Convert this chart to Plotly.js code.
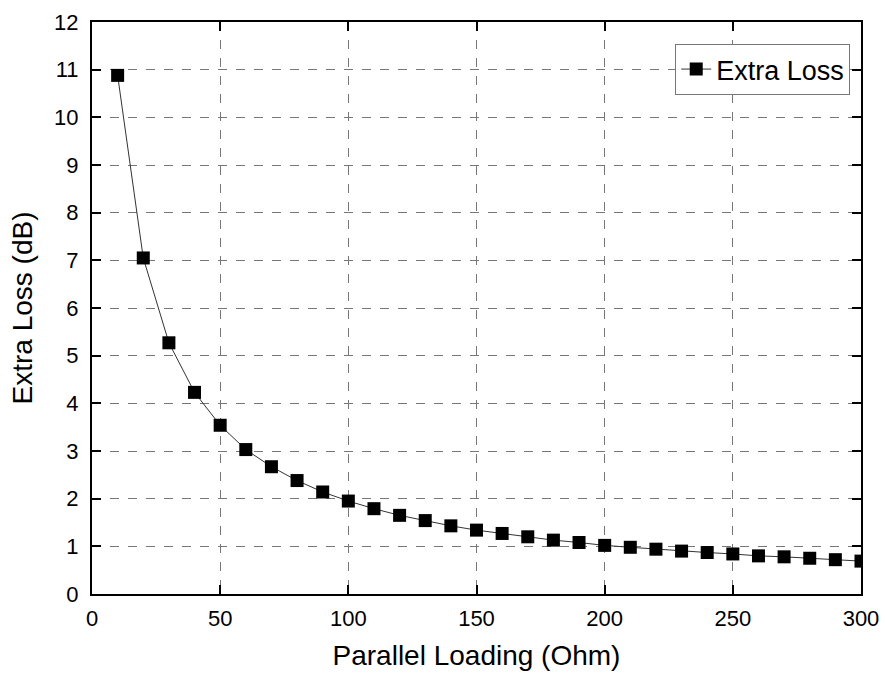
<!DOCTYPE html>
<html>
<head>
<meta charset="utf-8">
<script src="https://cdn.plot.ly/plotly-3.0.1.min.js"></script>
<style>html,body{margin:0;padding:0;background:#fff;}#chart{width:885px;height:677px;}</style>
</head>
<body>
<div id="chart"></div>
<script>
const loading = [10,20,30,40,50,60,70,80,90,100,110,120,130,140,150,160,170,180,190,200,210,220,230,240,250,260,270,280,290,300];
const extraLoss = [10.88,7.05,5.27,4.23,3.54,3.03,2.67,2.38,2.14,1.95,1.79,1.65,1.54,1.43,1.34,1.27,1.20,1.13,1.08,1.02,0.98,0.94,0.90,0.87,0.84,0.80,0.78,0.75,0.72,0.69];
const seriesName = 'Extra Loss';
const xTitle = 'Parallel Loading (Ohm)';
const yTitle = 'Extra Loss (dB)';

const fontFam = 'Liberation Sans, Arial, sans-serif';
const axisCommon = {
  showline: true, linecolor: '#000', linewidth: 2, mirror: 'ticks',
  ticks: 'inside', ticklen: 9, tickwidth: 2, tickcolor: '#000',
  showgrid: true, gridcolor: '#777', griddash: 'dash', gridwidth: 1,
  zeroline: false,
  tickfont: {family: fontFam, size: 22, color: '#000'}
};
Plotly.newPlot('chart', [{
  x: loading, y: extraLoss, name: seriesName, type: 'scatter', mode: 'lines+markers',
  line: {color: '#333', width: 1},
  marker: {symbol: 'square', size: 13, color: '#000'}
}], {
  width: 885, height: 677,
  margin: {l: 92, r: 24, t: 22, b: 83},
  paper_bgcolor: '#fff', plot_bgcolor: '#fff',
  showlegend: true,
  legend: {x: 0.986, xanchor: 'right', y: 0.9615, yanchor: 'top',
    bordercolor: '#777', borderwidth: 1, bgcolor: '#fff',
    font: {family: fontFam, size: 27, color: '#000'}},
  xaxis: Object.assign({}, axisCommon, {range: [0, 300], dtick: 50, tick0: 0, ticklabelstandoff: 4,
    title: {text: xTitle, font: {family: fontFam, size: 28, color: '#000'}, standoff: 15}}),
  yaxis: Object.assign({}, axisCommon, {range: [0, 12], dtick: 1, tick0: 0, ticklabelstandoff: 7,
    title: {text: yTitle + '\u00a0\u00a0\u00a0\u00a0', font: {family: fontFam, size: 28, color: '#000'}, standoff: 13}})
}, {displayModeBar: false});
</script>
</body>
</html>
